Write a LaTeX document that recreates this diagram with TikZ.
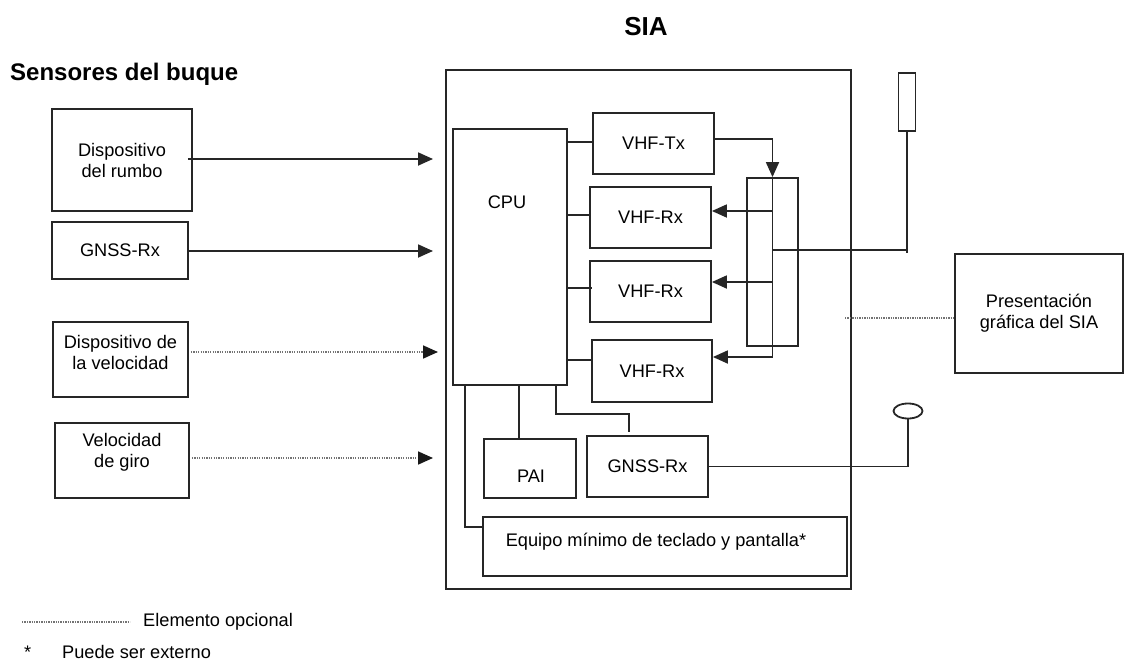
\documentclass[tikz,border=0pt]{standalone}
\usepackage{fontspec}
\setmainfont{Liberation Sans}
\usetikzlibrary{arrows.meta,shapes.geometric}
\begin{document}
\begin{tikzpicture}[x=1pt,y=-1pt,
  box/.style={draw=black!85, line width=1.8pt, inner sep=0pt, align=center, font=\fontsize{18.2}{21}\selectfont},
  txt/.style={inner sep=0pt, align=center, font=\fontsize{18.2}{21}\selectfont},
  conn/.style={draw=black!85, line width=1.8pt},
  arr/.style={conn, -{Triangle[length=15pt,width=13pt]}},
  opt/.style={draw=black!55, line width=1.7pt, dash pattern=on 1.3pt off 1.1pt},
  optarr/.style={opt, -{Triangle[length=15pt,width=13pt,color=black!90]}}
]
\useasboundingbox (0,0) rectangle (1126,669);

% titles
\node[anchor=base, inner sep=0pt, font=\fontsize{26}{29}\selectfont\bfseries] (tsia) at (646,36) {SIA};
\node[anchor=base west, inner sep=0pt, font=\fontsize{24}{28}\selectfont\bfseries] (tsens) at (10,81) {Sensores del buque};

% ship sensors
\node[box, minimum width=140pt, minimum height=102pt] (rumbo) at (122,160) {Dispositivo\\del rumbo};
\node[box, minimum width=136pt, minimum height=57pt] (gnssl) at (120,250.5) {GNSS-Rx};
\node[box, minimum width=135pt, minimum height=75pt] (vel) at (120.5,359.5) {};
\node[txt] (velt) at (120.5,352) {Dispositivo de\\la velocidad};
\node[box, minimum width=134pt, minimum height=75pt] (giro) at (122,460.5) {};
\node[txt] (girot) at (122,452) {Velocidad\\de giro};

% SIA box
\node[box, minimum width=405pt, minimum height=519pt] (sia) at (648.5,329.5) {};
\node[box, minimum width=114pt, minimum height=256pt] (cpu) at (510,257) {};
\node[txt] (cput) at (507,202) {CPU};
\node[box, minimum width=121pt, minimum height=61pt] (vtx) at (653.5,143.5) {VHF-Tx};
\node[box, minimum width=121pt, minimum height=61pt] (vrx1) at (650.5,217.5) {VHF-Rx};
\node[box, minimum width=121pt, minimum height=61pt] (vrx2) at (650.5,291.5) {VHF-Rx};
\node[box, minimum width=120pt, minimum height=62pt] (vrx3) at (652,371) {VHF-Rx};
\node[box, minimum width=51pt, minimum height=168pt] (split) at (772.5,262) {};
\node[box, minimum width=92pt, minimum height=59pt] (pai) at (530,468.5) {};
\node[txt] (pait) at (531,476) {PAI};
\node[box, minimum width=121pt, minimum height=61pt] (gnssi) at (647.5,466.5) {GNSS-Rx};
\node[box, minimum width=364pt, minimum height=59pt] (equipo) at (665,546.5) {};
\node[txt] (equipot) at (656,542) {Equipo mínimo de teclado y pantalla*};

% antennas and display
\node[box, minimum width=17pt, minimum height=58pt] (ant) at (907,102) {};
\node[draw=black!85, line width=1.8pt, ellipse, inner sep=0pt, minimum width=29pt, minimum height=15pt] (circ) at (908,411) {};
\node[box, minimum width=168pt, minimum height=119pt] (pres) at (1039,313.5) {Presentación\\gráfica del SIA};

% sensor inputs
\coordinate (e1) at (433,159);
\coordinate (e2) at (433,251);
\coordinate (e3) at (438,352);
\coordinate (e4) at (433,458);
\draw[arr] ([xshift=-5pt]rumbo.east |- e1) -- (e1);
\draw[arr] (gnssl.east |- e2) -- (e2);
\draw[optarr] ([xshift=2pt]vel.east |- e3) -- (e3);
\draw[optarr] ([xshift=2pt]giro.east |- e4) -- (e4);

% CPU to VHF units
\coordinate (c1) at (0,142);
\coordinate (c2) at (0,215);
\coordinate (c3) at (0,288);
\coordinate (c4) at (0,360);
\draw[conn] ([xshift=-2pt]cpu.east |- c1) -- (vtx.west |- c1);
\draw[conn] (cpu.east |- c2) -- (vrx1.west |- c2);
\draw[conn] (cpu.east |- c3) -- ([xshift=3pt]vrx2.west |- c3);
\draw[conn] ([xshift=-2pt]cpu.east |- c4) -- (vrx3.west |- c4);

% splitter
\coordinate (t1) at (0,139);
\coordinate (sb) at (772.5,357);
\draw[arr] (vtx.east |- t1) -| (split.north);
\draw[conn] (split.north) -- (sb);
\coordinate (r1) at (0,211);
\coordinate (r2) at (0,282);
\draw[arr] (split.north |- r1) -- (vrx1.east |- r1);
\draw[arr] (split.north |- r2) -- (vrx2.east |- r2);
\draw[arr] (sb) -- (sb -| vrx3.east);
\coordinate (a1) at (907,250);
\draw[conn] (split.north |- a1) -- (a1) -- (ant.south);
\draw[conn] (a1) -- ++(0,3);

% display (optional)
\coordinate (d1) at (845,318);
\draw[opt] (d1) -- (d1 -| pres.west);

% CPU bottom connections
\coordinate (p1) at (519,0);
\draw[conn] (cpu.south -| p1) -- (pai.north -| p1);
\coordinate (g1) at (556,414);
\coordinate (g2) at (629,414);
\draw[conn] (cpu.south -| g1) -- (g1) -- (g2) -- ([yshift=3pt]gnssi.north -| g2);
\coordinate (q1) at (465,527);
\draw[conn] (cpu.south -| q1) -- (q1) -- (q1 -| equipo.west);

% GNSS antenna
\draw[conn] (gnssi.east) -| (circ.south);

% legend
\coordinate (l1) at (22,622);
\coordinate (l2) at (130,622);
\draw[opt] (l1) -- (l2);
\node[txt, anchor=base west] (leg1) at (143,626) {Elemento opcional};
\node[txt, anchor=base west] (star) at (24,658) {*};
\node[txt, anchor=base west] (leg2) at (62,658) {Puede ser externo};
\end{tikzpicture}
\end{document}
